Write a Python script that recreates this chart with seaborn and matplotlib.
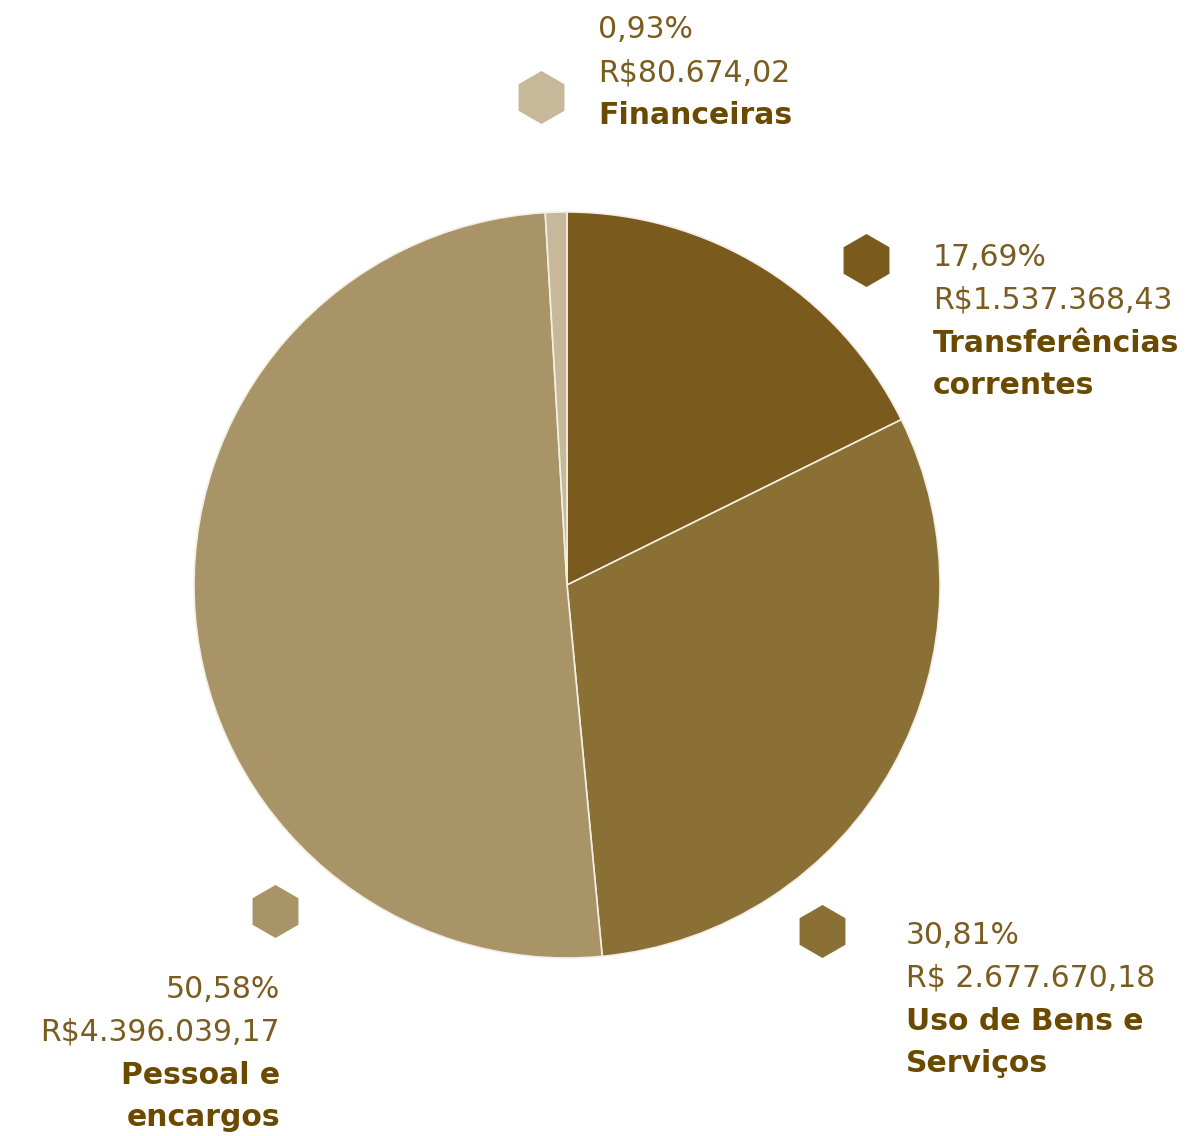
import matplotlib.pyplot as plt
import seaborn as sns

# dados (sentido horario a partir do topo)
categorias = ["Transferências\ncorrentes", "Uso de Bens e\nServiços", "Pessoal e\nencargos", "Financeiras"]
percentuais = [17.69, 30.81, 50.58, 0.93]
pct_txt = ["17,69%", "30,81%", "50,58%", "0,93%"]
valores_txt = ["R$1.537.368,43", "R$ 2.677.670,18", "R$4.396.039,17", "R$80.674,02"]
cores = ["#7a5b1d", "#8a7034", "#a89467", "#c6b898"]

sns.set_theme(style="white")
plt.rcParams['font.family'] = ['DejaVu Sans']

W, H = 1190, 1136
fig = plt.figure(figsize=(W / 100, H / 100), dpi=100)
ax = fig.add_axes([0, 0, 1, 1])

ax.pie(percentuais, colors=cores, startangle=90, counterclock=False,
       center=(567, H - 585), radius=373,
       wedgeprops=dict(edgecolor="#f3efe6", linewidth=1.2))

# o pie redefine os limites, entao ajusta depois
ax.set_xlim(0, W)
ax.set_ylim(0, H)
ax.set_aspect('equal')
ax.axis('off')

# posicao do hexagono e do texto (em pixels, y de cima para baixo)
layout = [
    dict(hx=866, hy=260, tx=933, ty=257, ha="left"),
    dict(hx=822, hy=931, tx=906, ty=935, ha="left"),
    dict(hx=275, hy=911, tx=280, ty=989, ha="right"),
    dict(hx=541, hy=97, tx=598, ty=30, ha="left"),
]
passo = 43
cor_num = "#7a5c1e"
cor_lbl = "#6b4a00"

for cat, p, v, c, L in zip(categorias, pct_txt, valores_txt, cores, layout):
    ax.plot(L["hx"], H - L["hy"], marker="h", markersize=37, color=c, linestyle="none")
    y = L["ty"]
    ax.text(L["tx"], H - y, p, ha=L["ha"], va="center", fontsize=21.5, color=cor_num)
    y += passo
    ax.text(L["tx"], H - y, v, ha=L["ha"], va="center", fontsize=21.5, color=cor_num)
    for linha in cat.split("\n"):
        y += passo
        ax.text(L["tx"], H - y, linha, ha=L["ha"], va="center", fontsize=21.5,
                fontweight="bold", color=cor_lbl)

fig.savefig("out.png", dpi=100)
